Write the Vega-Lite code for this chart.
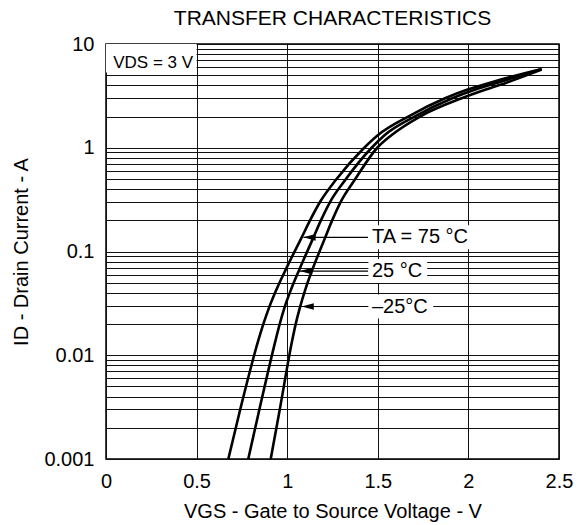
{
  "$schema": "https://vega.github.io/schema/vega-lite/v6.json",
  "width": 453,
  "height": 415,
  "autosize": {"type": "none"},
  "padding": {"left": 106, "top": 44, "right": 25, "bottom": 66},
  "background": "white",
  "title": {"text": "TRANSFER CHARACTERISTICS", "fontSize": 21, "fontWeight": "normal", "font": "Liberation Sans", "color": "black", "offset": 5, "anchor": "middle"},
  "config": {
    "font": "Liberation Sans",
    "view": {"stroke": "black", "strokeWidth": 1.5},
    "axis": {"domain": false, "ticks": false, "grid": true, "gridColor": "#111", "gridWidth": 1, "gridOpacity": 1, "labelFontSize": 20, "labelColor": "black", "labelPadding": 12, "labelFlush": false, "labelOverlap": false, "titleFontSize": 20, "titleFontWeight": "normal", "titleColor": "black", "titleFont": "Liberation Sans", "labelFont": "Liberation Sans"}
  },
  "datasets": {
    "curves": [
      {"series": "75", "vgs": 0.675, "id": 0.001},
      {"series": "75", "vgs": 0.738, "id": 0.00287},
      {"series": "75", "vgs": 0.841, "id": 0.014},
      {"series": "75", "vgs": 0.87, "id": 0.0204},
      {"series": "75", "vgs": 0.9, "id": 0.0288},
      {"series": "75", "vgs": 0.945, "id": 0.0447},
      {"series": "75", "vgs": 0.993, "id": 0.0676},
      {"series": "75", "vgs": 1.08, "id": 0.1368},
      {"series": "75", "vgs": 1.126, "id": 0.1995},
      {"series": "75", "vgs": 1.186, "id": 0.31},
      {"series": "75", "vgs": 1.268, "id": 0.489},
      {"series": "75", "vgs": 1.425, "id": 1.0},
      {"series": "75", "vgs": 1.5, "id": 1.32},
      {"series": "75", "vgs": 1.668, "id": 2.0},
      {"series": "75", "vgs": 1.871, "id": 3.0},
      {"series": "75", "vgs": 2.0, "id": 3.66},
      {"series": "75", "vgs": 2.119, "id": 4.24},
      {"series": "75", "vgs": 2.404, "id": 5.74},
      {"series": "25", "vgs": 0.785, "id": 0.001},
      {"series": "25", "vgs": 0.844, "id": 0.00287},
      {"series": "25", "vgs": 0.936, "id": 0.014},
      {"series": "25", "vgs": 0.96, "id": 0.0204},
      {"series": "25", "vgs": 0.985, "id": 0.0288},
      {"series": "25", "vgs": 1.025, "id": 0.0447},
      {"series": "25", "vgs": 1.068, "id": 0.0676},
      {"series": "25", "vgs": 1.145, "id": 0.1368},
      {"series": "25", "vgs": 1.186, "id": 0.1995},
      {"series": "25", "vgs": 1.241, "id": 0.31},
      {"series": "25", "vgs": 1.32, "id": 0.489},
      {"series": "25", "vgs": 1.466, "id": 1.0},
      {"series": "25", "vgs": 1.537, "id": 1.32},
      {"series": "25", "vgs": 1.703, "id": 2.0},
      {"series": "25", "vgs": 1.911, "id": 3.0},
      {"series": "25", "vgs": 2.043, "id": 3.66},
      {"series": "25", "vgs": 2.16, "id": 4.24},
      {"series": "25", "vgs": 2.404, "id": 5.71},
      {"series": "-25", "vgs": 0.909, "id": 0.001},
      {"series": "-25", "vgs": 0.957, "id": 0.00287},
      {"series": "-25", "vgs": 1.028, "id": 0.014},
      {"series": "-25", "vgs": 1.048, "id": 0.0204},
      {"series": "-25", "vgs": 1.07, "id": 0.0288},
      {"series": "-25", "vgs": 1.103, "id": 0.0447},
      {"series": "-25", "vgs": 1.14, "id": 0.0676},
      {"series": "-25", "vgs": 1.21, "id": 0.1368},
      {"series": "-25", "vgs": 1.248, "id": 0.1995},
      {"series": "-25", "vgs": 1.299, "id": 0.31},
      {"series": "-25", "vgs": 1.372, "id": 0.489},
      {"series": "-25", "vgs": 1.497, "id": 1.0},
      {"series": "-25", "vgs": 1.575, "id": 1.32},
      {"series": "-25", "vgs": 1.733, "id": 2.0},
      {"series": "-25", "vgs": 1.963, "id": 3.0},
      {"series": "-25", "vgs": 2.1, "id": 3.66},
      {"series": "-25", "vgs": 2.21, "id": 4.24},
      {"series": "-25", "vgs": 2.404, "id": 5.66}
    ],
    "labels": [
      {"label": "TA = 75 °C", "x0": 1.09, "x1": 1.446, "xt": 1.468, "y": 0.137},
      {"label": "25 °C", "x0": 1.071, "x1": 1.446, "xt": 1.468, "y": 0.0647},
      {"label": "–25°C", "x0": 1.08, "x1": 1.446, "xt": 1.468, "y": 0.0295}
    ],
    "note": [
      {"label": "VDS = 3 V", "x": 0.04, "y": 6.5, "bx": 0, "bx2": 0.5, "by": 5.3, "by2": 10}
    ]
  },
  "layer": [
    {
      "data": {"name": "note"},
      "mark": {"type": "rect", "fill": "white", "stroke": null},
      "encoding": {
        "x": {"field": "bx", "type": "quantitative", "title": "VGS - Gate to Source Voltage - V"},
        "x2": {"field": "bx2"},
        "y": {"field": "by", "type": "quantitative", "title": "ID - Drain Current - A"},
        "y2": {"field": "by2"}
      }
    },
    {
      "data": {"name": "curves"},
      "mark": {"type": "line", "color": "black", "strokeWidth": 2.6, "interpolate": "monotone"},
      "encoding": {
        "x": {"field": "vgs", "type": "quantitative", "title": "VGS - Gate to Source Voltage - V", "scale": {"domain": [0, 2.5], "nice": false, "zero": false}, "axis": {"values": [0, 0.5, 1, 1.5, 2, 2.5], "format": "~g", "titlePadding": 10}},
        "y": {"field": "id", "type": "quantitative", "title": "ID - Drain Current - A", "scale": {"type": "log", "domain": [0.001, 10], "nice": false}, "axis": {"values": [0.001, 0.002, 0.003, 0.004, 0.005, 0.006, 0.007, 0.008, 0.009, 0.01, 0.02, 0.03, 0.04, 0.05, 0.06, 0.07, 0.08, 0.09, 0.1, 0.2, 0.3, 0.4, 0.5, 0.6, 0.7, 0.8, 0.9, 1, 2, 3, 4, 5, 6, 7, 8, 9, 10], "format": "~g", "labelExpr": "indexof([0.001, 0.01, 0.1, 1, 10], datum.value) >= 0 ? datum.label : ''", "titlePadding": 12}},
        "detail": {"field": "series"}
      }
    },
    {
      "data": {"name": "labels"},
      "mark": {"type": "point", "filled": true, "color": "white", "opacity": 1, "size": 576, "strokeWidth": 0},
      "encoding": {
        "x": {"field": "xt", "type": "quantitative", "title": "VGS - Gate to Source Voltage - V"},
        "y": {"field": "y", "type": "quantitative", "title": "ID - Drain Current - A"},
        "shape": {"field": "label", "type": "nominal", "legend": null, "scale": {"domain": ["TA = 75 °C", "25 °C", "–25°C"], "range": ["M-0.3,-1H8.5V1H-0.3Z", "M-0.3,-1H4.6V1H-0.3Z", "M-0.3,-1H5.1V1H-0.3Z"]}}
      }
    },
    {
      "data": {"name": "labels"},
      "mark": {"type": "rule", "color": "black", "strokeWidth": 1.2},
      "encoding": {
        "x": {"field": "x0", "type": "quantitative", "title": "VGS - Gate to Source Voltage - V"},
        "x2": {"field": "x1"},
        "y": {"field": "y", "type": "quantitative", "title": "ID - Drain Current - A"}
      }
    },
    {
      "data": {"name": "labels"},
      "mark": {"type": "point", "shape": "M-1,0L1,-0.55L1,0.55Z", "filled": true, "color": "black", "opacity": 1, "size": 150, "xOffset": 6},
      "encoding": {
        "x": {"field": "x0", "type": "quantitative", "title": "VGS - Gate to Source Voltage - V"},
        "y": {"field": "y", "type": "quantitative", "title": "ID - Drain Current - A"}
      }
    },
    {
      "data": {"name": "labels"},
      "mark": {"type": "text", "align": "left", "baseline": "middle", "fontSize": 20, "color": "black"},
      "encoding": {
        "x": {"field": "xt", "type": "quantitative", "title": "VGS - Gate to Source Voltage - V"},
        "y": {"field": "y", "type": "quantitative", "title": "ID - Drain Current - A"},
        "text": {"field": "label"}
      }
    },
    {
      "data": {"name": "note"},
      "mark": {"type": "text", "align": "left", "baseline": "middle", "fontSize": 17, "color": "black"},
      "encoding": {
        "x": {"field": "x", "type": "quantitative", "title": "VGS - Gate to Source Voltage - V"},
        "y": {"field": "y", "type": "quantitative", "title": "ID - Drain Current - A"},
        "text": {"field": "label"}
      }
    }
  ]
}
